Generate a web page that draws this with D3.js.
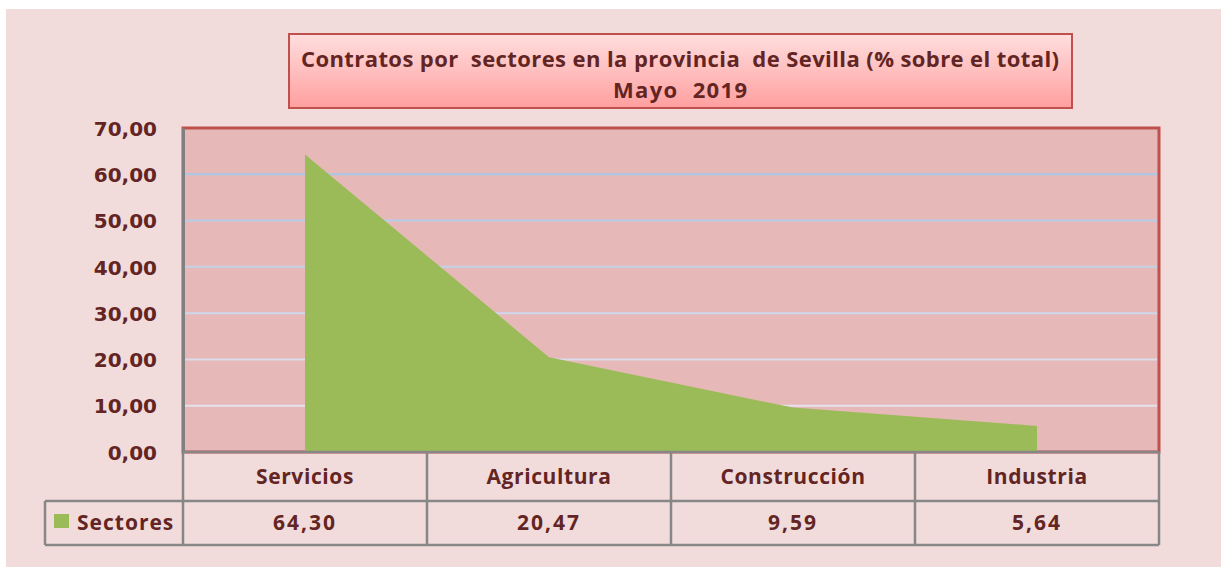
<!DOCTYPE html>
<meta charset="utf-8">
<svg width="1221" height="567"></svg>
<script src="https://d3js.org/d3.v7.min.js"></script>
<style>
  body {
    margin: 0;
    background: #fff;
  }
  .tick-label, .cell-label {
    fill: #632523;
    font-weight: bold;
  }
</style>
<script>
var categories = ["Servicios", "Agricultura", "Construcción", "Industria"];
var values = [64.30, 20.47, 9.59, 5.64];
var yTicks = [0, 10, 20, 30, 40, 50, 60, 70];
var seriesName = "Sectores";
var titleLines = ["Contratos por  sectores en la provincia  de Sevilla (% sobre el total)", "Mayo  2019"];

var svg = d3.select("svg"),
    plot = {left: 183, right: 1159, top: 128, bottom: 452},
    textColor = "#632523",
    green = "#9bbb59",
    gray = "#878787";

var fmt = function(v) { return d3.format(".2f")(v).replace(".", ","); };

// outer background
svg.append("rect")
    .attr("x", 6).attr("y", 9)
    .attr("width", 1221 - 6).attr("height", 567 - 9)
    .attr("fill", "#f2dcdb");

var defs = svg.append("defs");
var grad = defs.append("linearGradient")
    .attr("id", "titleGrad")
    .attr("x1", 0).attr("y1", 0).attr("x2", 0).attr("y2", 1);
grad.append("stop").attr("offset", "0%").attr("stop-color", "#ffdede");
grad.append("stop").attr("offset", "100%").attr("stop-color", "#ff9f9f");

var x = d3.scaleBand()
    .domain(categories)
    .range([plot.left, plot.right]);

var y = d3.scaleLinear()
    .domain([0, 70])
    .range([plot.bottom, plot.top]);

// plot background
svg.append("rect")
    .attr("x", plot.left).attr("y", plot.top)
    .attr("width", plot.right - plot.left).attr("height", plot.bottom - plot.top)
    .attr("fill", "#e6b8b7")
    .attr("stroke", "#c0504d")
    .attr("stroke-width", 3);

// gridlines, blue at top fading toward the bottom
var gridColor = d3.scaleLinear().domain([0, 70]).range(["#f2e6ee", "#9dc3e6"]);
svg.append("g").selectAll("line")
    .data(yTicks.filter(function(d) { return d > 0 && d < 70; }))
  .enter().append("line")
    .attr("x1", plot.left).attr("x2", plot.right - 2)
    .attr("y1", function(d) { return y(d); })
    .attr("y2", function(d) { return y(d); })
    .attr("stroke", function(d) { return gridColor(d); })
    .attr("stroke-width", 2);

// area
var area = d3.area()
    .x(function(d, i) { return x(categories[i]) + x.bandwidth() / 2; })
    .y0(y(0))
    .y1(function(d) { return y(d); });

svg.append("path")
    .datum(values)
    .attr("d", area)
    .attr("fill", green);

// y axis
var yAxis = svg.append("g")
    .attr("transform", "translate(" + plot.left + ",0)")
    .call(d3.axisLeft(y).tickValues(yTicks).tickSize(0).tickPadding(26).tickFormat(fmt));
yAxis.select(".domain").attr("stroke", "#808080").attr("stroke-width", 3);
yAxis.selectAll("text")
    .attr("class", "tick-label")
    .attr("dy", "0.36em")
    .style("font-family", "DejaVu Sans")
    .style("font-size", "20px");

// data table lines
var table = svg.append("g")
    .attr("stroke", gray)
    .attr("stroke-width", 2.5)
    .attr("fill", "none");
var row1 = 501, row2 = 545, legendLeft = 45;
table.append("line").attr("x1", plot.left).attr("x2", plot.right).attr("y1", plot.bottom).attr("y2", plot.bottom);
table.append("line").attr("x1", legendLeft).attr("x2", plot.right).attr("y1", row1).attr("y2", row1);
table.append("line").attr("x1", legendLeft).attr("x2", plot.right).attr("y1", row2).attr("y2", row2);
table.append("line").attr("x1", legendLeft).attr("x2", legendLeft).attr("y1", row1).attr("y2", row2);
table.selectAll(".vline")
    .data(categories.map(function(c) { return x(c); }).concat([plot.right]))
  .enter().append("line")
    .attr("x1", function(d) { return d; })
    .attr("x2", function(d) { return d; })
    .attr("y1", plot.bottom)
    .attr("y2", row2);

// category labels
svg.append("g").selectAll("text")
    .data(categories)
  .enter().append("text")
    .attr("class", "cell-label")
    .attr("x", function(d) { return x(d) + x.bandwidth() / 2; })
    .attr("y", (plot.bottom + row1) / 2)
    .attr("dy", "0.35em")
    .attr("text-anchor", "middle")
    .style("font-family", "Open Sans")
    .style("font-size", "21px")
    .style("letter-spacing", "0.6px")
    .text(function(d) { return d; });

// value labels
svg.append("g").selectAll("text")
    .data(values)
  .enter().append("text")
    .attr("class", "cell-label")
    .attr("x", function(d, i) { return x(categories[i]) + x.bandwidth() / 2; })
    .attr("y", (row1 + row2) / 2)
    .attr("dy", "0.35em")
    .attr("text-anchor", "middle")
    .style("font-family", "Open Sans")
    .style("font-size", "21px")
    .style("letter-spacing", "2px")
    .text(fmt);

// legend key
svg.append("rect")
    .attr("x", 54).attr("y", 514)
    .attr("width", 15).attr("height", 14)
    .attr("fill", green);
svg.append("text")
    .attr("class", "cell-label")
    .attr("x", 77)
    .attr("y", (row1 + row2) / 2)
    .attr("dy", "0.35em")
    .style("font-family", "Open Sans")
    .style("font-size", "21px")
    .style("letter-spacing", "1px")
    .text(seriesName);

// title box
svg.append("rect")
    .attr("x", 289).attr("y", 34)
    .attr("width", 783).attr("height", 74)
    .attr("fill", "url(#titleGrad)")
    .attr("stroke", "#c0504d")
    .attr("stroke-width", 2);

svg.append("g").selectAll("text")
    .data(titleLines)
  .enter().append("text")
    .attr("x", 680)
    .attr("y", function(d, i) { return 67 + i * 31; })
    .attr("text-anchor", "middle")
    .attr("fill", textColor)
    .attr("textLength", function(d, i) { return i === 0 ? 758 : 134; })
    .attr("lengthAdjust", "spacing")
    .style("font-family", "Open Sans")
    .style("font-weight", "bold")
    .style("font-size", "22px")
    .style("white-space", "pre")
    .text(function(d) { return d; });
</script>
